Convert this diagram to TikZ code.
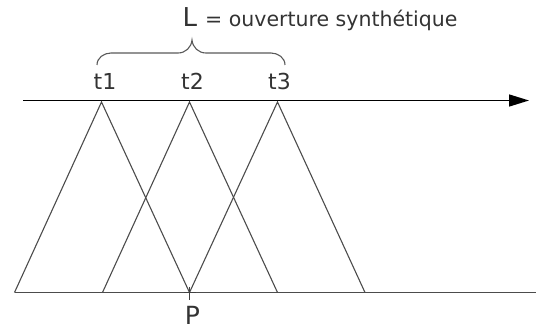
\documentclass[tikz,border=0pt]{standalone}
\usepackage{fontspec}
\setmainfont{DejaVu Sans}
\usetikzlibrary{arrows.meta,calc}
\begin{document}
\begin{tikzpicture}[x=1pt,y=-1pt,
  tri/.style={draw=black!70,line width=1.1pt},
  axis/.style={draw=black,line width=1.5pt,-{Triangle[length=20pt,width=12pt]}},
  lbl/.style={text=black!80,font=\fontsize{22}{26}\selectfont,inner sep=0pt,anchor=base}]
\useasboundingbox (0,0) rectangle (536,326);
% coordinates
\coordinate (A1) at (101.5,102);
\coordinate (A2) at (189.5,102);
\coordinate (A3) at (277.5,102);
\coordinate (B0) at (14.5,292.5);
\coordinate (B1) at (102.5,292.5);
\coordinate (P) at (189.5,292.5);
\coordinate (B3) at (277.5,292.5);
\coordinate (B4) at (365,292.5);
\coordinate (E) at (536,292.5);
\coordinate (AxS) at (23,100.5);
\coordinate (AxE) at (529,100.5);
% axis
\draw[axis] (AxS) -- (AxE);
% baseline
\draw[tri] (B0) -- (E);
% triangles
\draw[tri] (B0) -- (A1) -- (P);
\draw[tri] (B1) -- (A2) -- (B3);
\draw[tri] (P) -- (A3) -- (B4);
% P marker
\draw[draw=black!75,line width=1.2pt] ($(P)+(-6,0)$) -- ($(P)+(6,0)$);
\draw[draw=black!75,line width=1.2pt] ($(P)+(0,-6)$) -- ($(P)+(0,7.5)$);
% labels
\node[lbl] (t1) at (105,90) {t1};
\node[lbl] (t2) at (192.5,90) {t2};
\node[lbl] (t3) at (279.5,90) {t3};
\node[lbl,font=\fontsize{25}{30}\selectfont] (p) at (192.5,324.5) {P};
% brace
\coordinate (BrL) at (97,65);
\coordinate (BrR) at (285,65);
\coordinate (BrT) at (192,40);
\draw[draw=black!65,line width=1.1pt] (BrL) to[out=90,in=180] (111,53) -- (178,53)
  to[out=0,in=-95] (BrT) to[out=-85,in=180] (206,53) -- (271,53) to[out=0,in=90] (BrR);
\node[text=black!80,inner sep=0pt,anchor=base west,font=\fontsize{26}{30}\selectfont] (L) at (182.5,27) {L};
\node[text=black!80,inner sep=0pt,anchor=base west,font=\fontsize{20.5}{24}\selectfont] (desc) at (205,27) {= ouverture synthétique};
\end{tikzpicture}
\end{document}
